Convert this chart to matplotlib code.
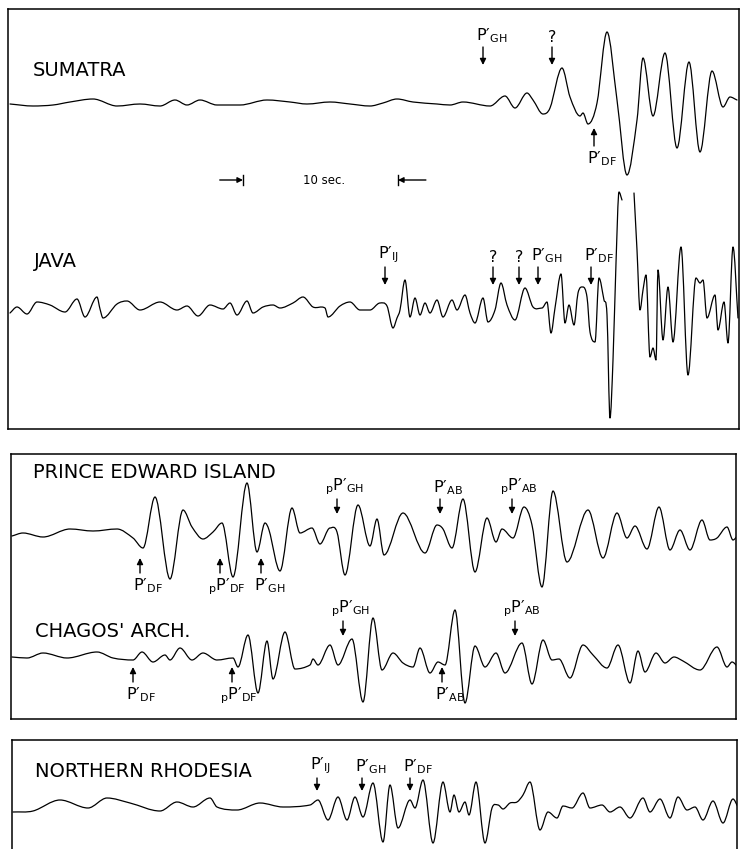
import numpy as np
import matplotlib.pyplot as plt
from matplotlib.path import Path
from matplotlib.patches import PathPatch

plt.rcParams['font.family'] = 'DejaVu Sans'
plt.rcParams['mathtext.default'] = 'regular'

UNITS_PER_SEC = 15.5   # record length units per second of trace

sumatra_x = [10, 33, 53, 70, 93, 117, 140, 160, 175, 187, 200, 217, 240, 267, 290, 307, 330, 350,
             370, 383, 397, 413, 437, 450, 463, 490, 505, 515, 527, 533, 543, 550, 562, 570, 580,
             583, 588, 597, 607, 617, 627, 637, 643, 653, 665, 677, 689, 700, 712, 723, 730, 737]
sumatra_a = [-1, -3, -2, 1, 4, -3, -1, -3, 3, -2, 3, -2, -2, 3, 1, -1, 1, -1,
             -3, 0, 4, 1, -1, -2, 1, -3, 7, -5, 10, 3, -11, -5, 35, 6, -13,
             -10, -21, 0, 71, 3, -72, -17, 45, -13, 50, -45, 41, -49, 32, -4, 6, 3]

java_x = [10, 17, 27, 37, 50, 65, 77, 85, 97, 100, 103, 117, 127, 140, 160, 177, 187, 198, 210,
          223, 230, 237, 247, 253, 263, 273, 280, 293, 303, 313, 325, 328, 340, 350, 360, 370,
          380, 387, 393, 397, 400, 405, 410, 415, 420, 425, 430, 437, 443, 452, 457, 465, 470,
          475, 483, 488, 495, 501, 507, 515, 525, 533, 542, 547, 551, 555,
          561, 565, 569, 574, 578, 583, 587, 590, 595, 599, 604, 607, 610, 613, 616, 619, 622,
          627, 634, 637, 640, 643, 646, 650, 653, 656, 658, 663, 668, 673, 681, 688, 696, 700,
          703, 707, 715, 718, 724, 728, 733, 738]
java_a = [-5, 1, -6, 6, 3, -4, 9, -9, 11, -1, -10, 4, 7, -2, 6, -2, 2, -8, 3,
          -1, 5, -7, 7, -5, 1, 3, 0, 5, 11, 1, 0, -9, 2, 6, -2, -2,
          5, 2, -20, -10, -2, 28, -9, 10, -7, 5, -5, 8, -9, 8, -2, 13, -5,
          -15, 10, -14, -2, 25, 3, -12, 20, 1, 0, 6, -25, 0,
          34, -15, 3, -17, 15, 21, 11, -24, -34, 30, 8, -7, -110, -52, 45, 116, 108,
          np.nan, 115, 58, -2, 18, 33, -49, -40, -52, 38, -32, 21, -34, 61, -67, 30, 25,
          28, -10, 13, -22, 6, -35, 61, -10]

pei_x = [12, 23, 43, 70, 93, 117, 133, 143, 155, 170, 183, 192, 203, 213, 222, 233, 247, 257,
         265, 269, 280, 292, 300, 312, 320, 330, 337, 345, 358, 370, 377, 384, 403, 425, 437,
         443, 452, 463, 475, 487, 496, 502, 513, 524, 532, 542, 553, 567, 588, 603, 617, 627,
         635, 647, 659, 670, 680, 690, 702, 710, 717, 727, 733, 738]
pei_a = [-1, 2, -2, 6, 4, 6, -3, -13, 38, -44, 25, 8, -4, 3, 12, -42, 52, -17,
         12, 5, -36, 27, 2, 7, -9, 7, 3, -40, 30, -11, 16, -20, 22, -18, 10,
         6, -13, 36, -37, 17, -7, 6, -3, 28, 10, -52, 44, -27, 25, -23, 22, -3,
         9, -14, 28, -15, 5, -15, 15, -5, -3, 8, -5, 0]

chagos_x = [12, 27, 43, 67, 97, 113, 133, 142, 153, 165, 170, 180, 192, 203, 217, 233, 238, 248,
            258, 267, 273, 285, 295, 310, 313, 318, 330, 338, 352, 363, 373, 382, 393, 403, 413,
            420, 430, 438, 445, 455, 465, 475, 485, 496, 505, 522, 532, 543, 552, 559, 570, 583,
            593, 607, 618, 630, 638, 645, 656, 665, 674, 683, 700, 717, 727, 732, 738]
chagos_a = [0, -1, 4, -1, 5, -1, -3, 5, -5, 2, -3, 9, -3, 4, -3, -1, -10, 22,
            -36, 16, -22, 25, -12, -8, -2, -8, 12, -8, 18, -45, 39, -13, 4, -6, -10,
            9, -16, -5, -8, 47, -46, 11, -10, 4, -16, 14, -27, 17, -3, -2, -21, 12,
            2, -11, 12, -26, 6, -15, 4, -6, 0, -4, -13, 10, -10, -5, -10]

rhod_x = [13, 33, 60, 88, 107, 130, 160, 177, 193, 210, 217, 237, 260, 283, 310, 318, 328, 338,
          347, 355, 363, 373, 383, 390, 398, 410, 415, 423, 433, 443, 450, 454, 459, 465, 469,
          476, 485, 492, 498, 503, 510, 517, 523, 530, 540, 548, 557, 563, 572, 583, 590, 602,
          610, 620, 630, 643, 650, 660, 670, 678, 687, 695, 703, 713, 723, 733, 738]
rhod_a = [0, 1, 12, 4, 14, 9, 1, 10, 5, 14, 5, 2, 9, 5, 7, 12, -8, 15,
          -8, 15, -5, 29, -30, 27, -16, 12, 4, 32, -31, 30, 0, 17, 0, 10, -3,
          30, -31, 4, 7, 3, 9, 10, 17, 30, -18, 0, -6, 6, 4, 19, 4, 7,
          0, 5, -6, 14, 0, 13, -6, 15, 2, 5, -8, 11, -11, 13, 5]

# phase picks: label, record position, arrow pointing up from below?
sumatra_phases = [r"$P\prime_{GH}$", "?", r"$P\prime_{DF}$"]
sumatra_phase_x = [483, 552, 594]
sumatra_phase_up = [False, False, True]

java_phases = [r"$P\prime_{IJ}$", "?", "?", r"$P\prime_{GH}$", r"$P\prime_{DF}$"]
java_phase_x = [385, 493, 519, 538, 591]
java_phase_up = [False, False, False, False, False]

pei_phases = [r"$P\prime_{DF}$", r"${}_{p}P\prime_{DF}$", r"$P\prime_{GH}$",
              r"${}_{p}P\prime_{GH}$", r"$P\prime_{AB}$", r"${}_{p}P\prime_{AB}$"]
pei_phase_x = [140, 220, 261, 337, 440, 512]
pei_phase_up = [True, True, True, False, False, False]

chagos_phases = [r"$P\prime_{DF}$", r"${}_{p}P\prime_{DF}$", r"${}_{p}P\prime_{GH}$",
                 r"$P\prime_{AB}$", r"${}_{p}P\prime_{AB}$"]
chagos_phase_x = [133, 232, 343, 442, 515]
chagos_phase_up = [True, True, False, True, False]

rhod_phases = [r"$P\prime_{IJ}$", r"$P\prime_{GH}$", r"$P\prime_{DF}$"]
rhod_phase_x = [317, 362, 410]
rhod_phase_up = [False, False, False]

W, H = 740, 849
fig = plt.figure(figsize=(W / 100, H / 100), dpi=100)


def panel(left, right, top, bottom):
    ax = fig.add_axes([left / W, 1 - bottom / H, (right - left) / W, (bottom - top) / H])
    ax.set_xlim(left / UNITS_PER_SEC, right / UNITS_PER_SEC)
    ax.set_ylim(-(bottom - top), 0)
    ax.set_xticks([])
    ax.set_yticks([])
    for s in ax.spines.values():
        s.set_linewidth(1.1)
    return ax


def smooth_segment(x, y):
    # cubic bezier through every sample, flat tangents at the peaks (pen-like trace)
    n = len(x)
    d = np.diff(y) / np.diff(x)
    m = np.zeros(n)
    m[0], m[-1] = d[0], d[-1]
    for i in range(1, n - 1):
        if d[i - 1] * d[i] > 0:
            m[i] = (y[i + 1] - y[i - 1]) / (x[i + 1] - x[i - 1])
    verts = [(x[0], y[0])]
    codes = [Path.MOVETO]
    for i in range(n - 1):
        h = x[i + 1] - x[i]
        verts += [(x[i] + h / 3, y[i] + m[i] * h / 3),
                  (x[i + 1] - h / 3, y[i + 1] - m[i + 1] * h / 3),
                  (x[i + 1], y[i + 1])]
        codes += [Path.CURVE4] * 3
    return verts, codes


def trace(ax, x, a, base, name, name_x, name_h):
    t = np.array(x) / UNITS_PER_SEC
    y = base + np.array(a, dtype=float)
    gaps = np.where(np.isnan(y))[0]
    starts = np.r_[0, gaps + 1]
    ends = np.r_[gaps, len(y)]
    for s, e in zip(starts, ends):
        verts, codes = smooth_segment(t[s:e], y[s:e])
        ax.add_patch(PathPatch(Path(verts, codes), fill=False, edgecolor='k', lw=0.9,
                               joinstyle='round', capstyle='round'))
    ax.text(name_x / UNITS_PER_SEC, base + name_h, name, fontsize=14, va='baseline', ha='left')


def phases(ax, labels, xs, ups, base, down_tip, up_tip, length=16):
    for lab, x, up in zip(labels, xs, ups):
        if lab == "?":
            dx, ha = 0, 'center'
        elif lab.startswith(r"${}_{p}"):
            dx, ha = -12, 'left'
        else:
            dx, ha = -7, 'left'
        t = x / UNITS_PER_SEC
        if up:
            tip = base + up_tip
            tail = tip - length
            ax.text(t + dx / UNITS_PER_SEC, tail - 3, lab, fontsize=11.5, ha=ha, va='top')
        else:
            tip = base + down_tip
            tail = tip + length
            ax.text(t + dx / UNITS_PER_SEC, tail + 2, lab, fontsize=11.5, ha=ha, va='bottom')
        ax.annotate('', xy=(t, tip), xytext=(t, tail),
                    arrowprops=dict(arrowstyle='-|>', color='k', lw=1.0,
                                    mutation_scale=9, shrinkA=0, shrinkB=0))


# upper panel: Sumatra and Java
ax1 = panel(8, 739, 9, 429)
trace(ax1, sumatra_x, sumatra_a, -94, "SUMATRA", 33, 27)
trace(ax1, java_x, java_a, -299, "JAVA", 34, 41)
phases(ax1, sumatra_phases, sumatra_phase_x, sumatra_phase_up, -94, 38, -25, 18)
phases(ax1, java_phases, java_phase_x, java_phase_up, -299, 23, -20, 18)

# 10 second scale bar
bar_y = -171
s0, s1 = 243 / UNITS_PER_SEC, 398 / UNITS_PER_SEC
ax1.annotate('', xy=(s0, bar_y), xytext=(s0 - 1.5, bar_y),
             arrowprops=dict(arrowstyle='-|>', color='k', lw=1.0, mutation_scale=8,
                             shrinkA=0, shrinkB=0))
ax1.annotate('', xy=(s1, bar_y), xytext=(s1 + 1.8, bar_y),
             arrowprops=dict(arrowstyle='-|>', color='k', lw=1.0, mutation_scale=8,
                             shrinkA=0, shrinkB=0))
ax1.plot([s0, s0], [bar_y - 5, bar_y + 5], color='k', lw=1.0)
ax1.plot([s1, s1], [bar_y - 5, bar_y + 5], color='k', lw=1.0)
ax1.text((s0 + s1) / 2 + 0.2, bar_y, "10 sec.", fontsize=8.5, ha='center', va='center')

# middle panel: Prince Edward Island and Chagos Archipelago
ax2 = panel(11, 736, 454, 719)
trace(ax2, pei_x, pei_a, -81, "PRINCE EDWARD ISLAND", 33, 57)
trace(ax2, chagos_x, chagos_a, -203, "CHAGOS' ARCH.", 35, 20)
phases(ax2, pei_phases, pei_phase_x, pei_phase_up, -81, 21, -23, 15)
phases(ax2, chagos_phases, chagos_phase_x, chagos_phase_up, -203, 21, -10, 15)

# lower panel: Northern Rhodesia
ax3 = panel(12, 737, 740, 870)
trace(ax3, rhod_x, rhod_a, -72, "NORTHERN RHODESIA", 35, 35)
phases(ax3, rhod_phases, rhod_phase_x, rhod_phase_up, -72, 21, -20, 13)

fig.savefig("out.png", dpi=100)
